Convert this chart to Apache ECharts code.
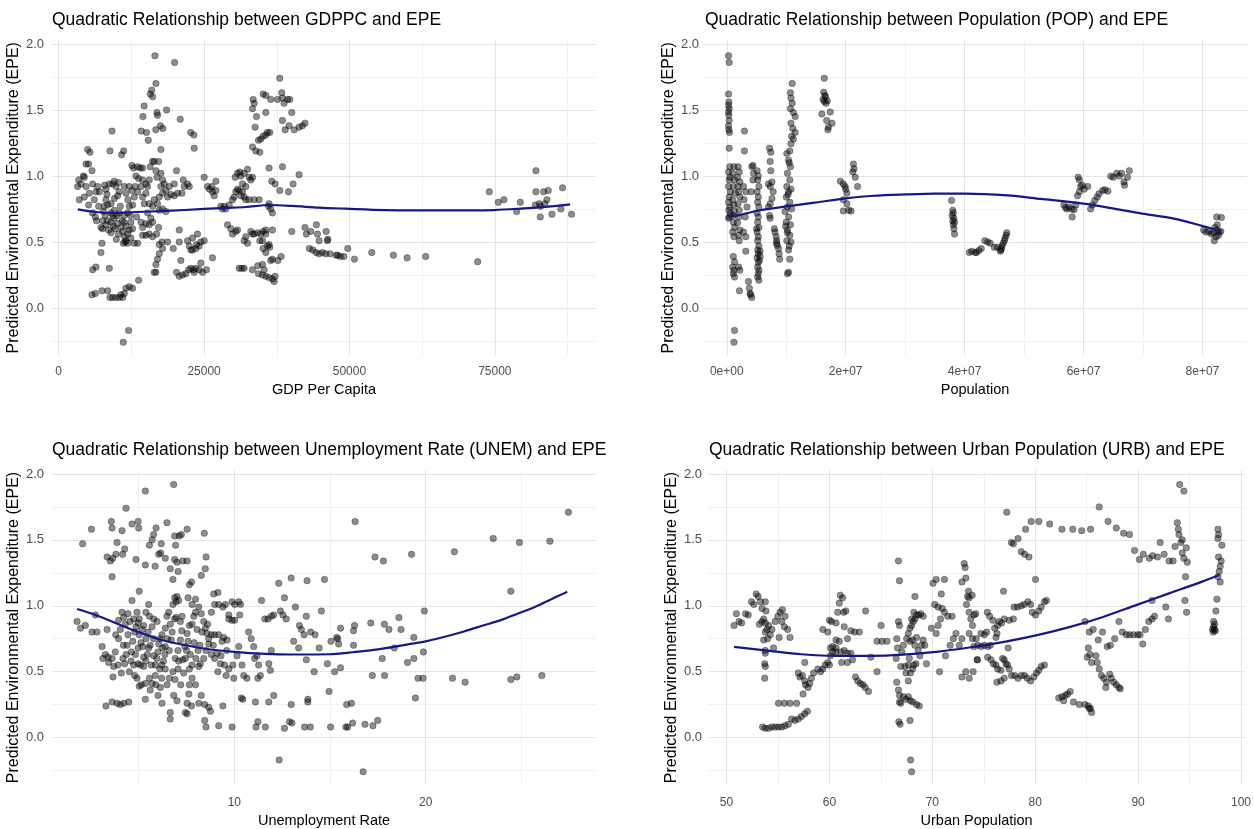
<!DOCTYPE html>
<html>
<head>
<meta charset="utf-8">
<script src="https://cdn.jsdelivr.net/npm/echarts@6/dist/echarts.min.js"></script>
<style>
  html, body { margin: 0; padding: 0; background: #fff; }
  #chart { width: 1254px; height: 829px; }
</style>
</head>
<body>
<div id="chart"></div>
<script>
// ---- data ----
const gdppcPoints = [
  [3440,0.97],[3260,0.92],[3840,0.94],[4410,0.99],[4700,1.09],[5150,1.09],[5730,1.04],[4980,1.20],[5380,1.18],[4240,1.00],
  [3550,0.82],[4700,0.92],[5270,0.87],[5840,0.94],[5840,0.72],[6300,0.69],[6700,0.92],[7000,0.88],[7270,0.61],[7560,0.66],
  [7440,0.49],[7270,0.42],[5840,0.29],[6410,0.31],[5730,0.10],[6300,0.11],[6120,0.82],[6870,0.77],[5150,0.78],[4410,0.84],[6410,0.88],
  [8820,1.19],[9160,1.34],[11170,1.19],[10820,1.16],[8130,0.90],[8700,0.94],[9280,0.94],[9560,0.96],[10130,0.85],[9850,0.92],
  [8130,0.82],[7850,0.77],[8420,0.78],[8990,0.79],[9560,0.74],[8990,0.72],[8420,0.66],[7560,0.60],[8130,0.63],[8990,0.65],
  [9560,0.68],[10130,0.64],[10420,0.72],[10700,0.61],[11000,0.58],[11280,0.54],[11570,0.51],[11850,0.56],[12140,0.59],[12710,0.60],
  [12420,0.65],[11280,0.65],[11850,0.72],[12140,0.77],[12710,0.78],[13000,0.84],[12600,0.89],[13170,0.92],[13570,0.88],[14150,0.92],
  [12140,0.92],[11280,0.92],[11570,0.87],[10420,0.88],[13000,0.49],[13570,0.49],[11110,0.49],[11450,0.50],[11850,0.49],[8700,0.30],
  [7440,0.13],[8420,0.13],[8820,0.08],[9280,0.08],[9850,0.08],[10420,0.08],[10700,0.10],[11000,0.08],[11280,0.11],[11570,0.15],
  [12140,0.16],[12710,0.15],[12020,-0.17],[11110,-0.26],[13740,0.21],[12880,1.06],[12600,1.08],[13570,1.07],[14030,1.06],[14430,1.06],
  [13280,1.00],[13740,0.98],[9000,0.57],[9700,0.60],[10300,0.56],[10900,0.66],[9300,0.70],[8000,0.70],[7700,0.73],[6500,0.66],
  [10000,0.70],[11600,0.62],[12400,0.53],[9900,0.52],[8600,0.59],
  [9400,0.62],[10600,0.77],[11200,0.70],[12300,0.70],[8300,0.86],[9600,0.83],[10300,0.95],[7900,0.93],[11900,0.82],[13400,0.69],
  [16550,1.91],[19930,1.86],[16720,1.70],[16150,1.60],[15740,1.62],[16000,1.65],[14700,1.53],[16900,1.48],[17000,1.46],[18550,1.50],
  [14490,1.45],[17500,1.38],[17900,1.36],[16700,1.35],[20900,1.43],[14200,1.34],[15100,1.33],[15400,1.27],[22700,1.33],[23240,1.31],
  [23300,1.21],[17580,1.20],
  [14430,0.84],[15000,0.87],[15290,0.92],[15570,0.97],[15740,1.07],[16150,1.11],[16430,1.11],[16720,1.04],[17180,1.11],[16900,0.99],
  [17580,1.02],[17870,0.97],[17580,0.92],[18150,0.94],[18440,0.89],[17870,0.87],[17290,0.84],[18720,0.84],[19300,0.86],[19870,0.85],
  [20440,0.87],[21190,0.87],[21590,0.92],[21420,0.97],[22160,0.94],[22450,0.92],[19010,0.92],[19870,0.94],[20270,1.04],[15000,0.94],
  [14430,0.97],[14720,0.79],[15570,0.79],[16430,0.82],[16150,0.77],[17000,0.79],[17290,0.74],[17870,0.75],[18440,0.73],[15290,0.72],
  [15860,0.68],[16150,0.65],[15570,0.63],[15000,0.64],[14430,0.61],[14150,0.65],[14430,0.55],[15000,0.55],[15570,0.56],[16150,0.54],
  [16830,0.56],[17180,0.61],[17290,0.48],[17760,0.50],[18720,0.50],[17870,0.45],[17290,0.41],[17000,0.37],[16720,0.33],[16430,0.27],
  [16720,0.27],[19700,0.45],[20730,0.50],[20730,0.59],[21010,0.36],[20270,0.27],[20730,0.24],[21300,0.25],[21870,0.26],[22330,0.29],
  [22160,0.51],[22450,0.47],[22730,0.44],[23020,0.44],[23590,0.45],[23700,0.48],[24160,0.47],[24450,0.50],[25020,0.51],[23870,0.56],
  [23020,0.53],[24450,0.34],[23130,0.29],[23590,0.30],[24160,0.29],[24740,0.27],[25420,0.29],[26450,0.38],[22730,0.30],[23300,0.27],
  [25020,0.99],[25590,0.92],[25930,0.90],[26450,0.88],[26740,0.85],[27030,0.89],[27030,0.96],[26340,0.92],
  [27890,0.77],[28170,0.75],[28460,0.77],[28740,0.75],[29320,0.78],[29030,0.63],[29600,0.60],[29890,0.56],[30460,0.58],[30750,0.59],
  [29890,0.82],[30170,0.84],[30460,0.88],[30750,0.90],[31030,0.89],[31320,0.85],[31610,0.88],[31890,0.84],[32180,0.82],[32750,0.82],
  [33610,0.82],[34470,0.82],[30350,0.99],[30750,1.02],[31150,1.03],[31320,1.00],[31890,1.02],[32470,1.05],[32750,0.99],[33330,0.99],
  [31610,0.94],[32180,0.92],[33040,0.97],[31890,0.51],[32180,0.54],[32470,0.49],[33040,0.58],[33330,0.56],[33610,0.56],[34190,0.57],
  [34760,0.56],[35160,0.58],[35620,0.59],[31030,0.30],[31490,0.30],[31890,0.30],[33330,0.29],
  [33440,1.58],[33610,1.55],[33330,1.51],[34010,1.45],[33780,1.37],[33330,1.22],[33900,1.19],[34590,1.18],[34360,1.27],[34760,1.28],
  [35160,1.30],[35620,1.31],[35900,1.33],[36300,1.33],[35620,1.48],[35160,1.62],[35620,1.61],[36470,1.58],[37620,1.58],[38020,1.74],
  [38360,1.63],[38480,1.59],[38760,1.55],[39340,1.58],[39740,1.58],[38480,1.42],[38940,1.35],[40080,1.48],[39620,1.38],[40510,1.35],
  [41340,1.37],[41910,1.38],[42360,1.40],[36180,1.06],[36640,0.96],[37210,0.94],[38480,1.07],[38020,0.89],[39510,0.88],[40310,0.94],
  [41340,1.01],[36180,0.79],[36470,0.75],[36760,0.72],[36070,0.77],[36760,0.59],[35620,0.56],[35050,0.51],[34590,0.51],[35160,0.45],
  [35900,0.47],[36180,0.48],[36300,0.46],[35620,0.42],[36760,0.37],[36470,0.36],[37680,0.36],[38250,0.39],[34240,0.32],[35050,0.33],
  [35330,0.29],[34360,0.26],[35050,0.25],[35620,0.24],[36180,0.23],[36760,0.22],[37050,0.20],[37210,0.24],[40080,0.58],[42360,0.61],
  [42590,0.56],[43340,0.58],[44320,0.63],[44500,0.56],[44780,0.51],[43110,0.45],[43680,0.44],[44250,0.42],[44780,0.41],[45350,0.42],
  [45920,0.41],[46210,0.51],[46670,0.41],
  [45990,0.58],[46280,0.52],[47710,0.40],[48000,0.40],[48450,0.39],[49030,0.39],[49710,0.45],[50860,0.37],[53840,0.42],[57560,0.40],
  [59910,0.38],[63110,0.39],[72050,0.35],[74050,0.88],[75600,0.80],[76570,0.82],[78750,0.73],[79380,0.80],[82070,1.04],[82070,0.88],
  [81960,0.78],[82650,0.79],[83390,0.88],[84190,0.89],[83960,0.82],[83620,0.79],[82820,0.69],[84820,0.71],[86360,0.75],[86650,0.91],
  [88190,0.71],[82880,0.77]
];
const gdppcCurve = [
  [3280,0.747],[6410,0.727],[9280,0.72],[13280,0.727],[18440,0.735],[25020,0.75],[28740,0.758],[32180,0.765],[36180,0.78],
  [40200,0.773],[44780,0.76],[49430,0.752],[56010,0.742],[62310,0.74],[68000,0.74],[74910,0.742],[79490,0.753],[84640,0.77],[87960,0.785]
];

const popPoints = [
  [3e5,1.91],[4e5,1.86],[3e5,1.62],[3.5e5,1.56],[3e5,1.535],[4e5,1.51],[3e5,1.485],[3.5e5,1.46],[4e5,1.42],[3e5,1.38],
  [3.5e5,1.35],[4.5e5,1.33],[4e5,1.21],[5e5,1.07],[3e5,1.03],[5.5e5,0.99],[4e5,0.97],[3e5,0.92],[6e5,0.88],[4e5,0.84],
  [3e5,0.80],[5e5,0.765],[3.5e5,0.74],[6e5,0.715],[4.5e5,0.69],[3e5,0.68],
  [1.1e6,0.65],[1.3e6,0.61],[1.0e6,0.575],[1.2e6,0.54],[1.1e6,0.39],[1.3e6,0.35],[1.0e6,0.31],[1.2e6,0.285],[1.1e6,0.26],[1.3e6,0.235],
  [1.3e6,-0.17],[1.2e6,-0.26],[1.2e6,1.07],[1.0e6,1.02],[1.3e6,0.97],[1.1e6,0.92],[1.4e6,0.87],[1.0e6,0.82],[1.2e6,0.78],[1.3e6,0.73],[1.1e6,0.70],
  [1.9e6,1.07],[2.1e6,1.03],[1.8e6,0.99],[2.2e6,0.955],[1.9e6,0.92],[2.0e6,0.88],[2.2e6,0.84],[1.9e6,0.79],[2.1e6,0.74],[2.0e6,0.69],
  [1.8e6,0.645],[2.2e6,0.59],[2.0e6,0.55],[2.1e6,0.51],[2.0e6,0.31],[2.2e6,0.285],[2.13e6,0.13],[2.97e6,1.34],[2.97e6,1.19],[2.8e6,0.92],
  [3.2e6,0.88],[2.9e6,0.82],[3.4e6,0.765],[3.1e6,0.69],[2.8e6,0.575],[3.2e6,0.54],[3.2e6,0.43],
  [3.65e6,0.20],[3.93e6,0.11],[4.2e6,0.08],[3.8e6,0.15],[4.1e6,0.88],[4.2e6,1.07],[4.4e6,1.08],[4.5e6,1.02],[4.4e6,0.97],[4.0e6,0.10],
  [5.1e6,1.04],[5.3e6,1.0],[5.2e6,0.97],[5.4e6,0.92],[5.1e6,0.88],[5.3e6,0.84],[5.2e6,0.80],[5.4e6,0.765],[5.1e6,0.72],[5.3e6,0.69],
  [5.2e6,0.65],[5.4e6,0.61],[5.1e6,0.575],[5.3e6,0.54],[5.2e6,0.51],[5.4e6,0.47],[5.2e6,0.44],[5.3e6,0.41],[5.1e6,0.38],[5.3e6,0.345],
  [5.2e6,0.31],[5.4e6,0.285],[5.3e6,0.26],[5.2e6,0.235],[5.4e6,0.21],[5.6e6,0.43],[5.6e6,0.39],[5.0e6,0.60],[5.5e6,0.36],
  [7.2e6,1.21],[7.4e6,1.18],[7.3e6,1.11],[7.4e6,1.04],[7.0e6,0.94],[7.6e6,0.955],[7.3e6,0.92],[7.8e6,0.88],[7.6e6,0.83],[7.3e6,0.79],
  [7.0e6,0.765],[7.2e6,0.70],[7.3e6,0.68],[8.1e6,0.575],[8.3e6,0.54],[8.4e6,0.51],[8.5e6,0.475],[8.7e6,0.45],[8.8e6,0.41],[8.9e6,0.37],
  [8.35e6,0.49],[8.0e6,0.60],
  [1.10e7,1.70],[1.07e7,1.63],[1.08e7,1.59],[1.10e7,1.55],[1.07e7,1.51],[1.12e7,1.48],[1.15e7,1.45],[1.08e7,1.40],[1.11e7,1.36],[1.15e7,1.33],
  [1.12e7,1.28],[1.08e7,1.245],[1.06e7,1.19],[1.01e7,1.17],[1.04e7,1.12],[1.07e7,1.07],[1.02e7,1.02],[1.06e7,0.97],[1.01e7,0.92],[1.04e7,0.88],
  [1.0e7,0.84],[1.06e7,0.80],[1.02e7,0.765],[0.98e7,0.73],[1.04e7,0.69],[1.0e7,0.65],[1.07e7,0.63],[1.02e7,0.59],[1.06e7,0.55],[1.01e7,0.51],
  [1.08e7,0.50],[1.04e7,0.44],[1.06e7,0.37],[1.04e7,0.27],[1.02e7,0.26],[1.08e7,0.90],[1.03e7,0.86],[1.09e7,0.75],[0.99e7,0.62],[1.05e7,1.10],
  [1.09e7,1.30],[1.02e7,0.57],[1.05e7,0.47],
  [1.64e7,1.74],[1.63e7,1.635],[1.65e7,1.61],[1.62e7,1.58],[1.64e7,1.565],[1.67e7,1.55],[1.60e7,1.47],[1.74e7,1.485],[1.68e7,1.42],[1.77e7,1.40],
  [1.71e7,1.37],[1.70e7,1.35],[1.66e7,1.60],[1.69e7,1.57],
  [1.91e7,0.96],[1.96e7,0.94],[1.99e7,0.92],[2.02e7,0.87],[1.96e7,0.82],[2.02e7,0.79],[1.96e7,0.735],[2.05e7,0.74],[2.09e7,0.735],[2.0e7,0.90],
  [2.13e7,1.09],[2.14e7,1.055],[2.12e7,1.03],[2.16e7,0.99],[2.2e7,0.92],
  [3.78e7,0.815],[3.80e7,0.74],[3.79e7,0.70],[3.82e7,0.68],[3.83e7,0.65],[3.81e7,0.63],[3.82e7,0.60],[3.83e7,0.56],[3.80e7,0.66],[3.81e7,0.72],
  [4.08e7,0.42],[4.12e7,0.43],[4.18e7,0.42],[4.2e7,0.42],[4.24e7,0.435],[4.28e7,0.45],[4.34e7,0.51],[4.39e7,0.50],[4.43e7,0.49],[4.50e7,0.46],
  [4.55e7,0.46],[4.60e7,0.43],[4.62e7,0.45],[4.63e7,0.47],[4.65e7,0.49],[4.67e7,0.51],[4.68e7,0.53],[4.70e7,0.55],[4.71e7,0.57],[4.61e7,0.44],
  [5.67e7,0.78],[5.72e7,0.75],[5.76e7,0.765],[5.80e7,0.75],[5.84e7,0.745],[5.81e7,0.69],[5.90e7,0.85],[5.93e7,0.88],[5.95e7,0.92],[5.98e7,0.93],
  [6.01e7,0.90],[6.07e7,0.92],[5.93e7,0.97],[5.91e7,0.99],[5.87e7,0.78],[5.70e7,0.76],
  [6.12e7,0.75],[6.15e7,0.78],[6.19e7,0.815],[6.23e7,0.84],[6.26e7,0.865],[6.32e7,0.89],[6.36e7,0.895],[6.41e7,0.885],[6.46e7,0.998],[6.50e7,0.99],
  [6.56e7,1.02],[6.60e7,1.0],[6.64e7,1.02],[6.68e7,0.955],[6.69e7,0.93],[6.74e7,0.99],[6.77e7,1.04],
  [8.02e7,0.59],[8.06e7,0.575],[8.11e7,0.58],[8.15e7,0.56],[8.20e7,0.51],[8.23e7,0.54],[8.25e7,0.59],[8.28e7,0.575],[8.31e7,0.58],[8.24e7,0.69],
  [8.32e7,0.685],[8.25e7,0.63],[8.21e7,0.61],[8.18e7,0.57],[8.27e7,0.55]
];
const popCurve = [
  [2.8e5,0.69],[1.7e6,0.70],[5.6e6,0.74],[1.01e7,0.77],[1.51e7,0.80],[2.0e7,0.83],[2.47e7,0.85],[3.0e7,0.86],[3.5e7,0.866],
  [4.0e7,0.866],[4.72e7,0.853],[5.28e7,0.826],[6.0e7,0.79],[6.51e7,0.753],[6.99e7,0.715],[7.52e7,0.677],[8.01e7,0.62],[8.31e7,0.583]
];

const unemPoints = [
  [5.35,1.87],[6.83,1.92],[4.34,1.74],[3.57,1.64],[3.61,1.59],[2.53,1.58],[2.07,1.47],[4.13,1.57],[4.65,1.62],[4.97,1.64],
  [5.0,1.59],[5.91,1.59],[5.78,1.54],[6.48,1.63],[5.70,1.50],[5.56,1.46],[6.18,1.47],[6.88,1.53],[7.12,1.53],[7.23,1.54],
  [7.53,1.58],[6.93,1.46],[8.43,1.55],[3.87,1.48],[3.35,1.37],[3.52,1.34],[3.64,1.36],[3.81,1.39],[4.16,1.39],[4.27,1.43],
  [4.86,1.35],[5.35,1.31],[6.05,1.39],[6.15,1.40],[5.86,1.30],[6.39,1.36],[6.65,1.28],[6.88,1.35],[7.0,1.33],[7.30,1.34],
  [7.53,1.34],[7.06,1.26],[8.52,1.37],[8.48,1.28],[8.27,1.23],[6.79,1.20],[7.76,1.18],[7.65,1.16],[3.61,1.22],[5.03,1.11],
  [1.78,0.88],[1.96,0.83],[2.21,0.85],[2.56,0.80],[2.82,0.80],[2.74,0.93],[3.35,0.82],[3.09,0.69],[3.26,0.63],[3.13,0.60],
  [3.43,0.57],[3.61,0.60],[3.69,0.54],[3.66,0.46],[3.92,0.55],[4.09,0.49],[4.18,0.60],[3.95,0.75],[4.04,0.82],[4.30,0.86],
  [4.22,0.91],[4.44,0.94],[4.65,1.04],[4.91,0.95],[4.74,0.90],[4.44,0.78],[4.69,0.73],[4.62,0.65],[4.83,0.63],[4.51,0.50],
  [4.79,0.47],[5.03,0.39],[4.97,0.68],[5.03,0.78],[5.18,0.82],[5.26,0.85],[5.03,0.90],[5.38,0.95],[5.52,1.01],[5.56,0.92],
  [5.78,0.90],[5.96,0.88],[5.70,0.84],[5.49,0.80],[5.38,0.75],[5.21,0.69],[5.26,0.61],[5.38,0.58],[5.26,0.54],[5.09,0.55],
  [4.91,0.45],[5.14,0.40],[5.35,0.41],[5.56,0.45],[5.70,0.41],[5.66,0.55],[5.87,0.55],[5.78,0.62],[6.01,0.65],[6.05,0.71],
  [6.13,0.75],[6.22,0.78],[6.39,0.83],[6.48,0.92],[6.57,0.95],[6.79,1.01],[6.88,1.06],[7.0,1.07],[6.95,1.03],[7.09,1.04],
  [6.88,0.90],[6.95,0.91],[7.18,0.88],[7.26,0.92],[6.65,0.86],[6.70,0.74],[6.39,0.69],[6.60,0.66],[6.37,0.63],[6.20,0.55],
  [6.39,0.52],[6.60,0.45],[6.20,0.45],[6.13,0.38],[6.22,0.26],[6.65,0.19],[6.65,0.14],[6.83,0.32],[7.0,0.28],[6.91,0.60],
  [7.09,0.58],[7.30,0.59],[7.44,0.60],[7.41,0.69],[7.58,0.73],[7.53,0.79],[7.65,0.85],[7.79,0.86],[7.88,0.92],[7.97,0.95],
  [7.79,1.01],[7.97,1.05],[7.58,1.06],[8.14,0.99],[8.27,0.94],[8.40,0.88],[8.48,0.83],[8.31,0.80],[8.57,0.79],[8.66,0.75],
  [8.80,0.78],[8.97,0.78],[9.18,0.78],[9.44,0.76],[9.62,0.74],[9.36,0.73],[8.97,1.01],[8.92,1.09],[9.14,1.10],[8.80,0.95],
  [9.18,1.01],[9.40,0.99],[9.53,1.01],[9.88,1.03],[10.02,1.01],[10.23,1.03],[10.32,1.01],[9.71,0.93],[9.88,0.89],[10.02,0.89],
  [10.28,0.93],[9.71,0.90],[8.66,0.71],[8.52,0.66],[8.40,0.60],[8.22,0.56],[8.14,0.54],[7.99,0.60],[7.79,0.55],[7.65,0.52],
  [7.79,0.45],[7.97,0.40],[7.65,0.40],[7.62,0.33],[7.76,0.24],[7.44,0.19],[7.53,0.18],[7.06,0.52],[6.79,0.50],[8.27,0.32],
  [8.14,0.26],[8.45,0.25],[8.66,0.23],[8.75,0.20],[8.45,0.13],[8.52,0.08],[9.18,0.09],[9.40,0.24],[9.14,0.50],[9.27,0.56],
  [9.49,0.55],[9.57,0.47],[9.71,0.52],[9.92,0.55],[9.97,0.45],[9.88,0.08],[10.14,0.62],[10.23,0.69],[10.40,0.55],[10.49,0.47],
  [10.66,0.45],[10.75,0.80],[10.88,0.75],[11.01,0.69],[11.06,0.60],[11.18,0.62],[11.27,0.55],[11.36,0.47],[11.23,0.45],[10.36,0.30],
  [10.44,0.29],[11.10,0.27],[11.23,0.12],[11.13,0.08],[11.62,0.08],[11.80,0.27],[12.06,0.32],[11.88,0.51],[11.80,0.56],[11.93,0.66],
  [11.42,1.04],[11.59,0.90],[11.76,0.90],[11.93,0.92],[12.06,0.93],[12.41,0.96],[12.54,0.93],[12.71,0.90],[12.32,1.17],[12.97,1.21],
  [12.62,1.06],[13.19,0.99],[13.40,0.85],[13.50,0.82],[13.64,0.78],[13.76,0.92],[13.80,1.19],[14.71,1.20],[14.55,0.96],[13.99,0.80],
  [14.22,0.78],[14.43,0.68],[13.76,0.59],[14.17,0.50],[13.10,0.73],[13.36,0.68],[12.97,0.25],[13.01,0.11],[12.88,0.12],[12.62,0.07],
  [13.67,0.08],[13.97,0.08],[13.84,0.29],[13.84,0.27],[12.34,-0.17],[14.95,0.35],[15.03,0.08],[14.86,0.56],
  [3.29,0.24],[3.61,0.27],[3.87,0.26],[4.04,0.25],[4.22,0.26],[4.48,0.27],[5.35,0.29],[7.53,0.26],
  [3.95,0.89],[4.13,0.95],[4.79,0.80],[4.97,0.87],[4.39,0.70],[4.27,0.56],[3.78,0.65],[3.40,0.61],[4.97,0.56],[4.74,0.55],
  [5.87,0.47],[6.01,0.32],[6.48,0.40],[5.78,0.75],[5.52,0.68],[7.18,0.74],[7.35,0.49],[8.10,0.66],[8.80,0.63],[8.97,0.60],[9.10,0.64],
  [4.55,0.88],[4.86,0.84],[5.12,0.72],[5.45,0.63],[5.60,0.70],[5.95,0.60],[6.25,0.68],[6.50,0.75],[6.75,0.80],[7.05,0.66],
  [7.25,0.81],[7.50,0.66],[7.70,0.63],[7.90,0.72],[8.05,0.82],[8.20,0.70],[8.60,0.86],[8.90,0.70],[9.30,0.62],[9.60,0.66],
  [5.90,0.40],[6.30,0.58],[4.60,0.58],[4.35,0.63],[6.90,0.44],[7.20,0.40],[3.80,0.78],[4.20,0.70],[5.60,0.36],[6.10,0.52],
  [15.05,0.73],[15.24,0.50],[15.35,0.76],[15.40,0.75],[15.45,0.71],[15.55,0.83],[15.55,0.53],[15.87,0.25],[16.12,0.26],[15.83,0.08],
  [15.92,0.08],[16.18,0.11],[16.23,0.70],[16.23,0.81],[16.28,0.85],[16.31,1.64],[16.73,-0.26],[16.83,0.10],[17.13,0.87],[17.21,0.47],
  [17.24,0.09],[17.35,1.37],[17.49,0.13],[17.73,0.60],[17.79,1.34],[17.84,0.86],[17.85,0.47],[18.08,0.82],[18.36,0.68],[18.6,0.91],
  [18.71,0.82],[19.05,0.57],[19.26,1.39],[19.38,0.76],[19.38,0.60],[19.46,0.30],[19.6,0.45],[19.86,0.45],[19.88,0.65],[19.93,0.96],
  [21.4,0.45],[21.5,1.41],[22.06,0.42],[23.53,1.51],[24.45,1.11],[24.45,0.44],[24.76,0.46],[24.9,1.48],[26.07,0.47],[26.49,1.49],[27.46,1.71]
];
const unemCurve = [
  [1.78,0.975],[2.74,0.93],[3.95,0.86],[5.0,0.80],[6.22,0.74],[7.44,0.70],[8.66,0.67],[10.0,0.65],[11.62,0.635],[13.0,0.63],
  [15.0,0.632],[16.0,0.645],[17.0,0.66],[18.0,0.68],[19.0,0.705],[20.0,0.73],[21.0,0.765],[22.0,0.805],[23.0,0.85],[24.0,0.895],
  [25.0,0.95],[26.0,1.01],[27.0,1.08],[27.4,1.107]
];

const urbPoints = [
  [50.73,0.85],[50.96,0.94],[51.21,0.88],[51.47,0.87],[51.85,0.94],[52.11,0.93],[52.43,1.03],[52.65,1.01],[52.88,1.09],[53.07,1.07],
  [53.29,1.03],[53.45,0.98],[53.77,1.03],[53.83,0.96],[53.61,0.90],[53.19,0.86],[53.45,0.88],[53.77,0.87],[53.93,0.82],[54.09,0.85],
  [53.77,0.80],[53.61,0.74],[54.0,0.75],[54.25,0.78],[54.41,0.82],[54.73,0.88],[54.98,0.92],[55.2,0.95],[55.43,0.97],[55.69,0.92],
  [55.37,0.88],[55.62,0.84],[55.94,0.82],[56.17,0.76],[55.11,0.76],[54.57,0.68],[53.77,0.66],[53.77,0.64],[53.71,0.56],[53.77,0.54],[53.71,0.45],
  [53.51,0.08],[53.77,0.07],[54.09,0.07],[54.41,0.08],[54.73,0.08],[55.05,0.08],[55.37,0.08],[55.69,0.09],[56.01,0.10],[56.33,0.14],
  [56.65,0.13],[56.97,0.14],[57.28,0.16],[57.6,0.18],[57.86,0.20],[55.05,0.26],[55.62,0.26],[56.17,0.26],[56.81,0.26],
  [57.44,0.33],[57.67,0.40],[56.97,0.49],[57.12,0.46],[57.38,0.47],[57.60,0.43],[57.92,0.38],[58.08,0.41],[58.24,0.45],[58.47,0.49],
  [58.88,0.52],[59.14,0.50],[59.36,0.52],[59.58,0.55],[59.84,0.57],[60.0,0.55],[60.10,0.62],[60.32,0.65],[60.64,0.68],[57.6,0.57],
  [59.36,0.82],[59.84,0.80],[60.0,0.89],[60.2,0.88],[60.64,0.87],[60.64,0.74],[60.96,0.73],[60.8,0.95],[60.96,1.02],[61.06,1.08],
  [61.28,1.06],[61.38,0.95],[61.6,0.96],[61.44,0.84],[61.76,0.75],[62.08,0.81],[62.46,0.80],[62.91,0.80],[60.32,0.69],[60.10,0.68],
  [60.64,0.65],[61.12,0.65],[61.44,0.66],[61.76,0.64],[62.08,0.64],[61.76,0.57],[62.24,0.59],[61.19,0.57],[63.52,0.96],[62.53,0.46],
  [62.75,0.43],[63.0,0.41],[63.26,0.40],[63.48,0.38],[63.80,0.35],[64.03,0.61],[64.63,0.73],[65.11,0.73],[65.59,0.73],[64.63,0.50],[65.02,0.85],
  [66.71,1.34],[66.81,1.19],[66.71,0.88],[66.81,0.85],[66.55,0.75],[66.62,0.68],[66.49,0.60],[67.03,0.65],[67.19,0.70],[66.93,0.54],
  [67.35,0.54],[67.67,0.55],[67.77,0.60],[67.51,0.75],[67.67,0.79],[67.83,0.83],[67.99,0.85],[68.15,0.88],[68.31,0.90],[68.47,0.93],
  [67.99,0.90],[68.21,0.95],[68.66,0.93],[68.88,0.94],[69.11,0.92],[68.31,1.07],[67.83,0.73],[68.09,0.74],[68.31,0.70],[68.63,0.66],
  [68.79,0.62],[68.95,0.70],[69.11,0.74],[68.47,0.76],[68.21,0.55],[68.09,0.52],[68.41,0.56],[67.87,0.49],[67.67,0.43],[67.45,0.49],
  [66.55,0.42],[66.71,0.36],[66.81,0.32],[66.81,0.27],[66.93,0.26],[67.19,0.31],[67.45,0.29],[67.67,0.31],[67.87,0.28],[68.11,0.27],
  [68.47,0.25],[68.73,0.24],[66.75,0.12],[66.87,0.10],[67.83,0.13],[67.89,-0.17],[67.99,-0.26],
  [69.27,0.70],[69.43,0.56],[70.07,1.17],[70.38,1.20],[71.18,1.20],[70.23,1.01],[70.56,0.99],[70.87,1.09],[70.96,0.98],[71.18,0.95],
  [71.50,0.92],[71.92,0.92],[70.80,0.90],[70.56,0.85],[69.91,0.83],[70.38,0.79],[70.70,0.50],[71.28,0.62],[71.73,0.70],[72.05,0.75],
  [72.30,0.79],[72.62,0.70],[72.88,0.75],[72.88,0.46],[73.26,0.50],[73.58,0.45],[73.10,1.32],[73.19,1.29],[73.26,1.21],[72.88,1.18],
  [73.52,1.11],[73.42,1.07],[73.32,1.01],[73.58,0.95],[73.74,0.90],[73.90,0.85],[73.58,0.79],[73.90,0.75],[74.06,0.93],[74.22,0.94],
  [73.87,1.08],[73.58,1.06],[74.38,0.59],[73.97,0.50],[74.73,0.79],
  [74.26,0.75],[74.04,0.69],[74.42,0.70],[74.74,0.69],[75.06,0.70],[75.38,0.69],[75.64,0.70],[75.28,0.80],[75.06,0.78],[75.35,0.95],
  [75.57,0.92],[75.89,0.89],[76.06,0.83],[76.35,0.85],[76.51,0.88],[76.73,0.87],[76.99,0.90],[77.47,0.89],[77.88,0.90],[76.19,0.76],
  [76.28,0.79],[76.92,1.11],[77.37,0.68],[75.38,0.61],[75.71,0.59],[75.93,0.56],[76.19,0.55],[76.35,0.52],[76.67,0.51],[76.83,0.60],
  [76.99,0.59],[77.15,0.56],[77.31,0.55],[77.47,0.52],[77.69,0.47],[78.01,0.47],[78.33,0.45],[78.65,0.47],[78.97,0.47],[79.23,0.45],
  [79.55,0.43],[79.87,0.46],[80.13,0.49],[80.35,0.51],[80.58,0.54],[80.90,0.55],[76.28,0.42],[76.67,0.43],[76.99,0.45],[74.36,0.59],
  [77.95,0.99],[78.27,0.99],[78.65,1.0],[78.91,1.01],[79.29,1.03],[79.55,1.01],[79.71,0.95],[80.03,0.93],[80.35,0.96],[80.58,0.99],
  [80.90,1.03],[81.09,1.04],[80.03,1.20],[77.24,1.71],[77.69,1.48],[77.88,1.47],[78.33,1.51],[78.65,1.41],[78.97,1.39],[79.39,1.37],
  [79.07,1.58],[79.61,1.64],[80.35,1.64],[81.41,1.62],[82.6,1.58],[83.65,1.58],[84.52,1.57],[85.38,1.58],[86.22,1.75],[87.08,1.64],
  [87.88,1.59],[88.59,1.55],[89.17,1.54],[89.65,1.42],[90.13,1.35],[90.51,1.39],[91.09,1.36],[91.41,1.38],[91.89,1.37],[92.15,1.48],
  [92.53,1.39],[93.01,1.34],[93.40,1.34],[93.59,1.45],[93.81,1.63],[93.91,1.58],[93.97,1.54],[94.29,1.50],[94.16,1.48],[94.29,1.40],
  [94.45,1.36],[94.68,1.44],[94.78,1.33],[94.61,1.22],[94.04,1.92],[94.45,1.87],[94.55,1.04],[94.71,0.95],
  [97.76,1.58],[97.82,1.54],[97.76,1.51],[98.14,1.46],[97.82,1.37],[98.07,1.34],[97.98,1.30],[97.88,1.26],[97.76,1.22],[97.98,1.18],
  [97.66,1.05],[97.56,0.96],[97.34,0.88],[97.34,0.84],[97.43,0.82],[97.24,0.82],[97.43,0.86],[97.5,0.81],[97.3,0.80],
  [84.84,0.88],[85.26,0.80],[85.64,0.82],[86.12,0.74],[86.54,0.80],[87.0,0.69],[87.31,0.70],[87.72,0.75],[88.14,0.88],[88.46,0.80],
  [88.85,0.78],[89.17,0.78],[89.55,0.78],[89.97,0.78],[90.19,0.78],[90.45,0.71],[90.70,0.82],[91.03,0.88],[91.35,0.90],[91.60,0.92],
  [91.35,1.04],[92.69,0.99],[92.95,0.90],[85.16,0.68],[85.06,0.61],[85.32,0.63],[85.48,0.57],[85.90,0.62],[86.03,0.57],[86.22,0.52],
  [86.44,0.47],[86.67,0.45],[86.92,0.42],[86.86,0.38],[87.24,0.48],[87.40,0.45],[87.63,0.42],[87.88,0.40],[88.14,0.38],[88.27,0.37],
  [82.28,0.30],[82.6,0.31],[82.92,0.32],[83.14,0.33],[83.40,0.35],[82.76,0.28],[83.72,0.27],[84.29,0.25],[84.84,0.25],[85.16,0.24],
  [85.38,0.22],[85.48,0.19],[85.26,0.22]
];
const urbCurve = [
  [50.73,0.688],[53.77,0.662],[57.28,0.632],[60.8,0.62],[63.99,0.62],[67.19,0.629],[70.38,0.65],[73.58,0.683],[76.99,0.726],
  [80.19,0.777],[83.40,0.84],[86.6,0.915],[89.81,1.005],[93.01,1.094],[96.22,1.183],[97.88,1.234]
];

// tick values and labels
const yTicks = [0, 0.5, 1, 1.5, 2];
const yMinor = [-0.25, 0.25, 0.75, 1.25, 1.75];
const gdppcTicks = [0, 25000, 50000, 75000];
const gdppcMinor = [12500, 37500, 62500, 87500];
const popTicks = [0, 2e7, 4e7, 6e7, 8e7];
const popTickLabels = ['0e+00', '2e+07', '4e+07', '6e+07', '8e+07'];
const popMinor = [1e7, 3e7, 5e7, 7e7];
const unemTicks = [10, 20];
const unemMinor = [5, 15, 25];
const urbTicks = [50, 60, 70, 80, 90, 100];
const urbMinor = [55, 65, 75, 85, 95];

const titles = [
  'Quadratic Relationship between GDPPC and EPE',
  'Quadratic Relationship between Population (POP) and EPE',
  'Quadratic Relationship between Unemployment Rate (UNEM) and EPE',
  'Quadratic Relationship between Urban Population (URB) and EPE'
];
const xNames = ['GDP Per Capita', 'Population', 'Unemployment Rate', 'Urban Population'];
const yName = 'Predicted Environmental Expenditure (EPE)';

// ---- chart ----
const FONT = "'Liberation Sans', Arial, Helvetica, sans-serif";
const majorLine = { color: '#e4e4e4', width: 1, type: 'solid' };
const minorLine = { color: '#f1f1f1', width: 1, type: 'solid' };

const panels = [
  { grid: { left: 52, top: 40, width: 544, height: 315.5 }, xMin: -1150, xMax: 92400,
    ticks: gdppcTicks, minor: gdppcMinor, points: gdppcPoints, curve: gdppcCurve,
    fmt: v => String(v), title: { left: 52, top: 11 }, yMargin: 8, xMargin: 10, nameGapX: 27 },
  { grid: { left: 703, top: 40, width: 544, height: 315.5 }, xMin: -4.0e6, xMax: 8.75e7,
    ticks: popTicks, minor: popMinor, points: popPoints, curve: popCurve,
    fmt: v => popTickLabels[popTicks.indexOf(v)], title: { left: 705, top: 11 }, yMargin: 4, xMargin: 10, nameGapX: 27 },
  { grid: { left: 52, top: 470, width: 544, height: 315 }, xMin: 0.47, xMax: 28.9,
    ticks: unemTicks, minor: unemMinor, points: unemPoints, curve: unemCurve,
    fmt: v => String(v), title: { left: 52, top: 441, width: 562 }, yMargin: 8, xMargin: 12, nameGapX: 28 },
  { grid: { left: 708, top: 470, width: 543, height: 315 }, xMin: 48.2, xMax: 100.4,
    ticks: urbTicks, minor: urbMinor, points: urbPoints, curve: urbCurve,
    fmt: v => String(v), title: { left: 709, top: 441 }, yMargin: 6, xMargin: 12, nameGapX: 28 }
];

const chart = echarts.init(document.getElementById('chart'), null, { renderer: 'canvas' });

const option = {
  animation: false,
  backgroundColor: '#ffffff',
  title: panels.map((p, i) => ({
    text: titles[i],
    left: p.title.left,
    top: p.title.top,
    padding: 0,
    textStyle: Object.assign({
      fontFamily: FONT, fontSize: 17.5, fontWeight: 'normal', color: '#000'
    }, p.title.width ? { width: p.title.width, overflow: 'truncate', ellipsis: '' } : {})
  })),
  grid: panels.map(p => p.grid),
  xAxis: panels.map((p, i) => ({
    type: 'value',
    gridIndex: i,
    min: p.xMin,
    max: p.xMax,
    name: xNames[i],
    nameLocation: 'middle',
    nameGap: p.nameGapX,
    nameTextStyle: { fontFamily: FONT, fontSize: 14.5, color: '#000' },
    axisLine: { show: false },
    axisTick: { show: false },
    splitLine: { show: false },
    axisLabel: {
      customValues: p.ticks,
      formatter: p.fmt,
      margin: p.xMargin,
      fontFamily: FONT, fontSize: 12, color: '#4d4d4d'
    }
  })),
  yAxis: panels.map((p, i) => ({
    type: 'value',
    gridIndex: i,
    min: -0.36,
    max: 2.03,
    name: yName,
    nameLocation: 'middle',
    nameGap: 24,
    nameTextStyle: { fontFamily: FONT, fontSize: 16, color: '#000' },
    axisLine: { show: false },
    axisTick: { show: false },
    splitLine: { show: false },
    axisLabel: {
      customValues: yTicks,
      formatter: v => v.toFixed(1),
      margin: p.yMargin,
      fontFamily: FONT, fontSize: 13, color: '#4d4d4d'
    }
  })),
  series: panels.flatMap((p, i) => [
    {
      type: 'scatter',
      xAxisIndex: i,
      yAxisIndex: i,
      data: p.points,
      symbolSize: 6.5,
      z: 3,
      itemStyle: { color: 'rgba(0,0,0,0.56)', borderColor: 'rgba(0,0,0,0.6)', borderWidth: 0.6 },
      silent: true,
      markLine: {
        silent: true,
        symbol: 'none',
        z: 1,
        animation: false,
        label: { show: false },
        emphasis: { disabled: true },
        lineStyle: { type: 'solid' },
        data: [
          ...p.minor.map(v => ({ xAxis: v, lineStyle: minorLine })),
          ...yMinor.map(v => ({ yAxis: v, lineStyle: minorLine })),
          ...p.ticks.map(v => ({ xAxis: v, lineStyle: majorLine })),
          ...yTicks.map(v => ({ yAxis: v, lineStyle: majorLine }))
        ]
      }
    },
    {
      type: 'line',
      xAxisIndex: i,
      yAxisIndex: i,
      data: p.curve,
      smooth: 0.3,
      showSymbol: false,
      z: 5,
      silent: true,
      lineStyle: { color: '#17178a', width: 2.2 }
    }
  ])
};

chart.setOption(option);
window.addEventListener('resize', () => chart.resize());
</script>
</body>
</html>
